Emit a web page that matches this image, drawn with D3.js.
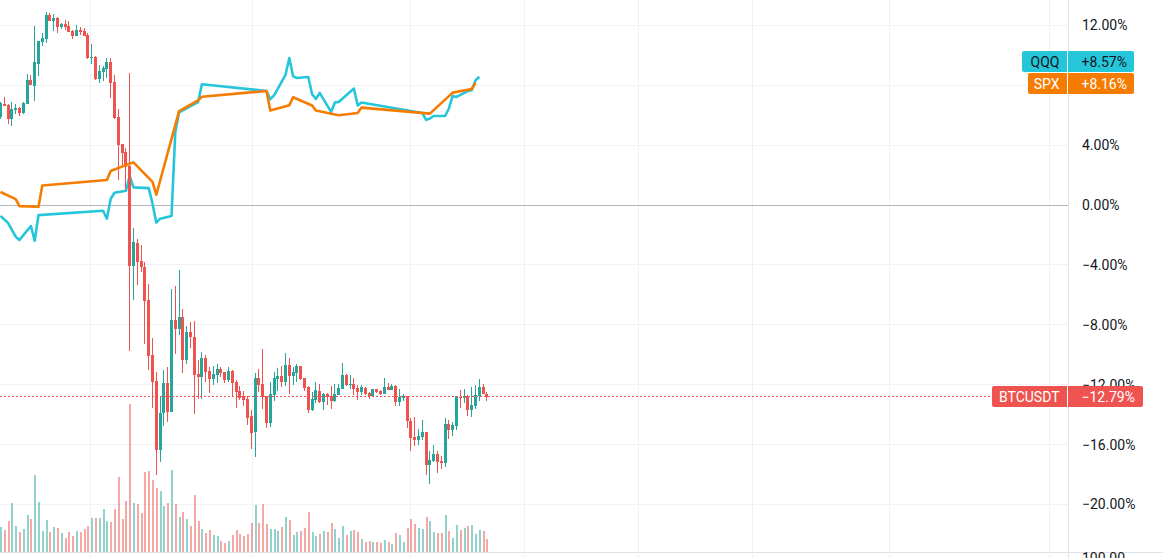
<!DOCTYPE html>
<html>
<head>
<meta charset="utf-8">
<script src="https://cdn.jsdelivr.net/npm/d3@7"></script>
<style>
html,body{margin:0;padding:0;background:#fff;overflow:hidden}
svg{display:block}
text{font-family:Roboto,"Liberation Sans",sans-serif;font-size:14px}
</style>
</head>
<body>
<svg id="c" width="1163" height="558"></svg>
<script>
const opens=[5.85,6.73,6.65,5.73,6.33,6.49,6.13,6.75,8.33,7.93,9.4,10.87,11.07,12.67,12.27,12.47,11.87,12.07,11.93,11.6,11.27,11.67,11.6,11.33,9.8,9.87,8.4,8.87,9.07,9.53,8.2,5.87,4.07,3.53,2.6,-4.07,-2.53,-3.73,-4.13,-6.33,-10.0,-11.73,-16.33,-13.87,-11.87,-13.8,-7.67,-8.27,-7.47,-10.33,-8.47,-8.8,-11.27,-11.47,-10.2,-11.07,-11.6,-11.33,-10.93,-11.13,-11.67,-11.07,-11.8,-12.4,-12.73,-12.93,-14.07,-15.13,-11.53,-11.93,-12.73,-14.53,-12.67,-11.6,-11.4,-11.8,-10.67,-11.4,-11.2,-10.73,-11.53,-12.13,-13.67,-13.0,-12.4,-13.13,-12.6,-12.73,-13.07,-12.67,-12.27,-11.33,-12.0,-11.93,-12.2,-12.47,-12.2,-12.53,-12.73,-12.27,-12.4,-12.6,-12.13,-12.33,-12.07,-13.13,-12.87,-12.73,-14.4,-15.47,-15.67,-15.47,-15.13,-17.33,-17.07,-16.6,-17.07,-17.2,-14.6,-15.0,-14.73,-12.8,-12.87,-12.73,-13.67,-13.4,-12.73,-12.13,-12.6];
const highs=[6.89,7.2,6.73,6.87,6.73,6.55,6.87,8.73,8.67,11.93,10.93,11.47,12.87,12.8,12.73,12.53,12.13,12.33,12.27,11.67,12.0,11.87,11.8,11.47,10.73,9.93,9.33,9.27,9.8,9.8,8.67,6.4,4.07,3.8,8.8,-1.53,-2.27,-2.67,-3.8,-5.27,-8.87,-11.13,-12.73,-11.0,-10.8,-5.6,-5.4,-4.33,-6.93,-8.07,-7.8,-7.73,-10.33,-9.8,-10.0,-10.8,-10.73,-10.6,-10.8,-11.13,-10.8,-11.0,-11.67,-12.07,-12.4,-12.73,-13.67,-11.2,-10.93,-9.6,-12.73,-11.8,-11.13,-10.87,-10.73,-9.87,-10.2,-10.8,-10.6,-10.73,-11.53,-12.07,-12.47,-11.8,-11.93,-12.53,-12.53,-12.07,-11.93,-11.93,-10.53,-11.27,-11.33,-11.53,-12.0,-12.0,-12.13,-12.47,-12.27,-12.27,-12.33,-11.53,-11.87,-11.93,-12.0,-12.27,-12.6,-12.73,-14.2,-14.13,-14.93,-14.33,-15.13,-16.4,-16.0,-16.4,-16.73,-14.2,-14.33,-14.47,-12.73,-12.33,-12.27,-12.67,-12.13,-12.0,-11.6,-11.93,-12.47];
const lows=[5.73,6.6,5.4,5.27,6.07,5.93,6.07,6.75,8.0,6.93,8.6,10.6,10.8,12.27,11.6,11.47,11.73,11.67,11.53,11.07,11.27,11.33,11.27,9.73,9.4,8.33,8.13,8.27,8.47,7.13,5.73,1.67,2.67,1.0,-9.73,-6.33,-5.33,-4.47,-9.27,-11.0,-13.53,-18.0,-17.13,-14.73,-14.47,-13.8,-9.93,-8.67,-11.2,-10.6,-9.53,-13.93,-12.93,-12.93,-11.8,-12.53,-12.0,-11.87,-11.47,-11.87,-11.8,-12.8,-13.53,-13.0,-13.4,-14.67,-16.27,-16.8,-12.47,-13.6,-14.87,-14.8,-13.07,-12.4,-12.13,-12.07,-12.6,-12.0,-11.8,-11.67,-12.4,-13.87,-13.73,-13.2,-13.2,-13.67,-13.33,-13.6,-13.13,-12.67,-12.27,-12.07,-12.27,-12.67,-13.0,-12.67,-12.67,-12.93,-12.73,-12.53,-12.67,-12.6,-12.33,-12.33,-13.4,-13.4,-13.07,-14.87,-16.4,-16.07,-16.0,-15.67,-18.0,-18.6,-17.13,-17.87,-17.6,-17.47,-15.6,-15.4,-15.0,-13.53,-13.2,-14.07,-14.13,-13.6,-13.07,-12.6,-13.07];
const closes=[6.82,6.6,5.73,6.4,6.49,6.13,6.8,8.33,8.0,9.53,10.93,11.13,12.67,12.27,12.47,11.87,12.07,11.87,11.53,11.27,11.67,11.53,11.27,9.8,9.87,8.4,8.93,9.13,9.53,8.13,5.8,4.0,3.47,2.53,-4.07,-2.47,-3.8,-4.13,-6.4,-10.07,-11.8,-16.33,-13.87,-11.87,-13.8,-7.67,-8.27,-7.47,-10.33,-8.47,-8.8,-11.33,-11.47,-10.2,-11.13,-11.6,-11.27,-10.93,-11.2,-11.67,-11.07,-11.87,-12.47,-12.87,-13.0,-14.2,-15.2,-11.53,-12.0,-12.8,-14.53,-12.6,-11.53,-11.4,-11.8,-10.67,-11.4,-11.13,-10.73,-11.6,-12.2,-13.67,-12.93,-12.33,-13.13,-12.6,-12.8,-13.07,-12.6,-12.2,-11.33,-12.0,-11.93,-12.27,-12.47,-12.13,-12.6,-12.73,-12.27,-12.47,-12.6,-12.13,-12.33,-12.07,-13.13,-12.8,-12.73,-14.4,-15.53,-15.67,-15.4,-15.13,-17.33,-17.0,-16.6,-17.13,-17.2,-14.6,-15.0,-14.67,-12.73,-12.87,-12.73,-13.67,-13.33,-12.67,-12.13,-12.6,-12.79];
const volumes=[25,22,31,49,26,20,23,37,33,77,50,21,32,20,25,24,19,14,20,16,21,20,23,26,34,34,34,43,31,30,43,75,33,51,148,49,48,39,80,81,72,64,61,46,49,82,48,35,40,33,26,57,31,23,19,22,17,16,11,9,11,17,22,18,16,18,29,47,29,48,28,23,23,21,25,35,32,17,20,21,24,40,20,16,18,21,20,29,23,14,26,17,21,22,20,13,10,11,10,10,9,12,10,8,19,17,10,24,33,28,24,23,35,31,20,19,19,37,21,14,27,22,24,26,27,18,22,21,13];
const qqqBars=[0,2,4,5,8,9,10,27,28,29,30,33,34,35,39,40,41,42,45,46,47,52,53,70,71,72,75,76,77,78,81,82,83,84,87,88,89,93,94,95,111,112,113,114,117,118,119,120,123,124,125,126];
const qqqValues=[-0.73,-1.2,-2.11,-2.33,-1.4,-2.38,-0.67,-0.38,-0.91,0.42,0.82,0.95,1.93,1.18,1.13,0.11,-1.18,-0.91,-0.73,4.87,6.2,6.88,8.07,7.62,7.07,7.33,8.69,9.82,8.6,8.49,8.55,7.4,7.09,7.49,6.22,6.85,6.89,7.78,6.65,6.85,6.15,5.69,5.78,5.95,5.95,6.45,7.29,7.22,7.62,7.67,8.33,8.57];
const spxBars=[0,4,5,10,11,28,29,33,35,40,41,47,52,53,70,71,76,77,82,83,89,94,95,113,119,124,125];
const spxValues=[0.87,0.4,-0.07,-0.11,1.31,1.67,2.27,2.67,2.85,1.55,0.69,6.27,7.0,7.23,7.62,6.31,6.67,7.2,6.65,6.31,6.0,6.15,6.51,6.11,7.51,7.75,8.16];
const yTicks=[12,8,4,0,-4,-8,-12,-16,-20];
const yLabelTicks=[12,4,0,-4,-8,-12,-16,-20];
const gridBars=[23.8,66.2,108,138,168,198,234,276];
const lastBTC=-12.79, lastQQQ=8.57, lastSPX=8.16;

const PANE_R=1068, VOL_BASE=552;
const x=d3.scaleLinear().domain([0,128]).range([0.5,486.9]);
const y=d3.scaleLinear().domain([12,-20]).range([25.4,504.5]);
const v=d3.scaleLinear().domain([0,150]).range([VOL_BASE,402]);
const UP="#26a69a", DOWN="#ef5350", QC="#26c6da", SC="#f57c00", GRID="#f1f2f5";
const fmt=d=>(d<0?"\u2212":"")+Math.abs(d).toFixed(2)+"%";
const signed=d=>(d<0?"\u2212":"+")+Math.abs(d).toFixed(2)+"%";

const svg=d3.select("#c");
const g=svg.append("g");

// grid
g.append("g").selectAll("line").data(yTicks.filter(d=>d!==0)).join("line")
  .attr("x1",0).attr("x2",PANE_R).attr("y1",d=>Math.floor(y(d))+.5).attr("y2",d=>Math.floor(y(d))+.5)
  .attr("stroke",GRID);
g.append("g").selectAll("line").data(gridBars).join("line")
  .attr("x1",d=>Math.floor(x(d))+.5).attr("x2",d=>Math.floor(x(d))+.5).attr("y1",0).attr("y2",558)
  .attr("stroke",GRID);
g.append("line").attr("x1",0).attr("x2",PANE_R).attr("y1",Math.floor(y(0))+.5).attr("y2",Math.floor(y(0))+.5).attr("stroke","#b2b5be");

// volume
const idx=d3.range(closes.length);
const col=i=>closes[i]>=opens[i]?UP:DOWN;
g.append("g").attr("opacity",.5).attr("shape-rendering","crispEdges").selectAll("rect").data(idx).join("rect")
  .attr("x",i=>Math.floor(x(i))).attr("width",2)
  .attr("y",i=>v(volumes[i])).attr("height",i=>VOL_BASE-v(volumes[i]))
  .attr("fill",col);

// QQQ
const line=d3.line().curve(d3.curveLinear);
g.append("path").attr("fill","none").attr("stroke",QC).attr("stroke-width",2.6).attr("stroke-linejoin","round")
  .attr("d",line(qqqBars.map((b,i)=>[x(b),y(qqqValues[i])])));

// candles
const cg=g.append("g").attr("shape-rendering","crispEdges");
cg.selectAll("rect.w").data(idx).join("rect").attr("class","w")
  .attr("x",i=>Math.floor(x(i))).attr("width",1)
  .attr("y",i=>y(highs[i])).attr("height",i=>y(lows[i])-y(highs[i]))
  .attr("fill",col);
cg.selectAll("rect.b").data(idx).join("rect").attr("class","b")
  .attr("x",i=>Math.floor(x(i))-1).attr("width",3)
  .attr("y",i=>y(Math.max(opens[i],closes[i])))
  .attr("height",i=>Math.max(1,Math.abs(y(opens[i])-y(closes[i]))))
  .attr("fill",col);

// SPX
g.append("path").attr("fill","none").attr("stroke",SC).attr("stroke-width",2.6).attr("stroke-linejoin","round")
  .attr("d",line(spxBars.map((b,i)=>[x(b),y(spxValues[i])])));

// last price line
const ly=Math.floor(y(lastBTC))+.5;
g.append("line").attr("x1",0).attr("x2",992).attr("y1",ly).attr("y2",ly)
  .attr("stroke",DOWN).attr("stroke-dasharray","2 2").attr("shape-rendering","crispEdges");

// axis frame
g.append("line").attr("x1",PANE_R+.5).attr("x2",PANE_R+.5).attr("y1",0).attr("y2",558).attr("stroke","#e0e3eb");
g.append("line").attr("x1",0).attr("x2",1163).attr("y1",VOL_BASE+.5).attr("y2",VOL_BASE+.5).attr("stroke","#e0e3eb");

// axis labels
const axis=d3.axisRight(y).tickValues(yLabelTicks).tickSize(0).tickPadding(0).tickFormat(fmt);
const ax=g.append("g").attr("transform","translate(1082,0)").call(axis);
ax.select(".domain").remove();
ax.selectAll("text").attr("fill","#131722").style("font-size","14px").style("font-family","Roboto,'Liberation Sans',sans-serif");
g.append("text").attr("x",1082).attr("y",563).attr("fill","#131722").text("100.00");

// price labels
function label(name,val,left,right,top,h,bg,fg){
  g.append("rect").attr("x",left).attr("y",top).attr("width",right-left).attr("height",h).attr("rx",2).attr("fill",bg);
  g.append("rect").attr("x",PANE_R-1).attr("y",top).attr("width",1).attr("height",h).attr("fill","#fff").attr("shape-rendering","crispEdges");
  g.append("text").attr("x",1059.5).attr("y",top+h/2+5).attr("text-anchor","end").attr("fill",fg).text(name);
  g.append("text").attr("x",1081.5).attr("y",top+h/2+5).attr("fill",fg).text(signed(val));
}
label("QQQ",lastQQQ,1022,1134,51,21,QC,"#131722");
label("SPX",lastSPX,1028,1134,73,21,SC,"#fff");
label("BTCUSDT",lastBTC,992,1143,386,21,DOWN,"#fff");
</script>
</body>
</html>
